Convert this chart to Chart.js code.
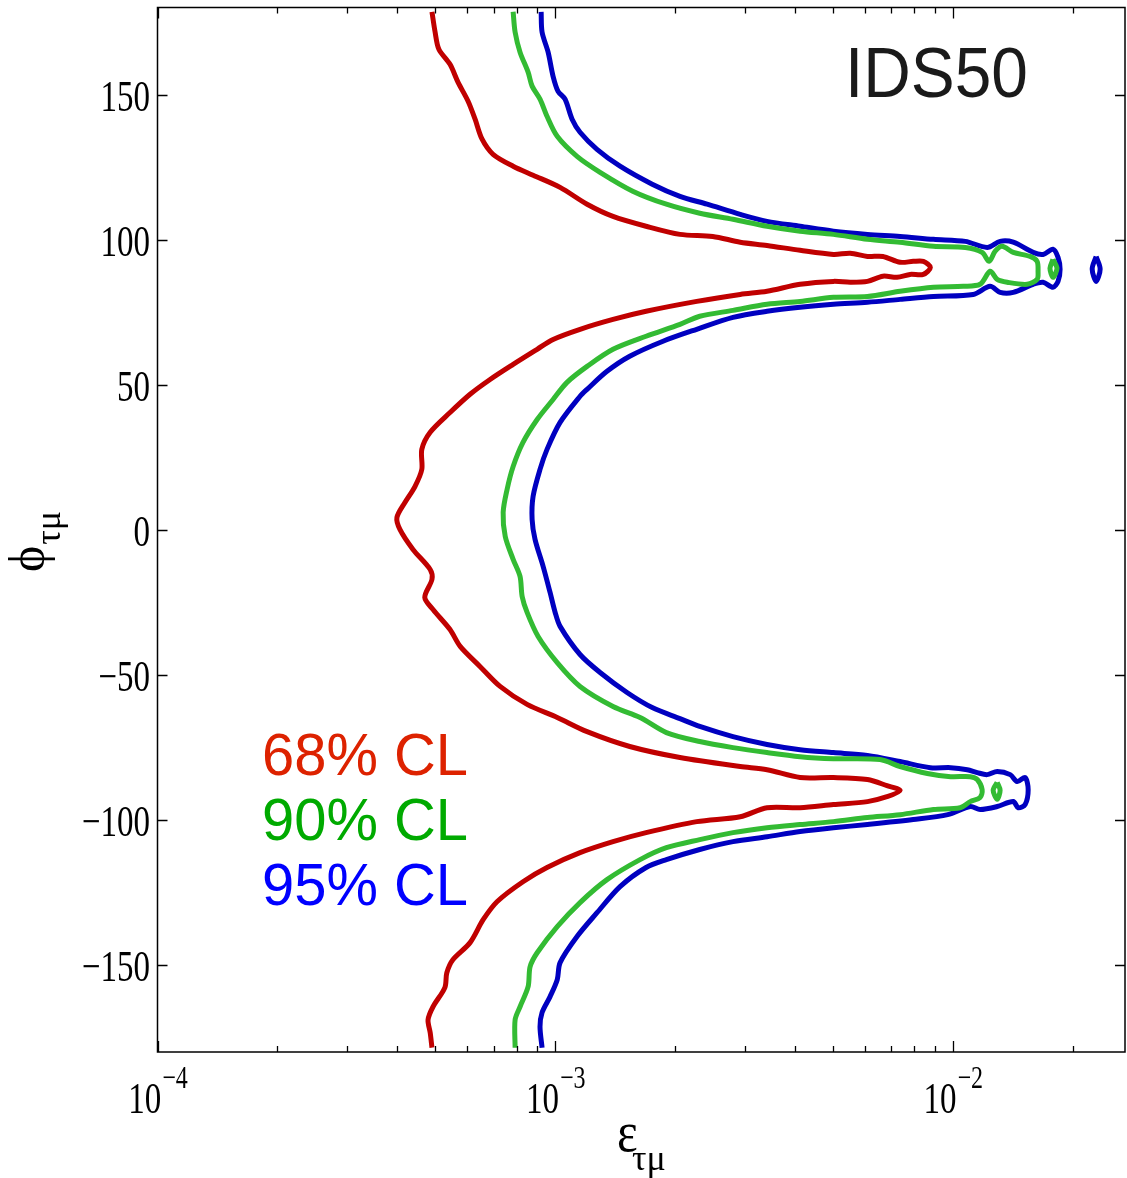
<!DOCTYPE html>
<html>
<head>
<meta charset="utf-8">
<script src="https://cdn.jsdelivr.net/npm/chart.js@4.4.1/dist/chart.umd.min.js"></script>
<style>
  html, body { margin: 0; padding: 0; background: #ffffff; }
  canvas { display: block; }
</style>
</head>
<body>
<canvas id="contourChart" width="1127" height="1178"></canvas>
<script>
// contour lines as [epsilon, phi] pairs
const cl68 = [[4.90e-4,178.5],[4.99e-4,171.5],[5.10e-4,165.6],[5.44e-4,160.4],[5.70e-4,154.2],[6.04e-4,147.7],[6.29e-4,141.5],[6.55e-4,134.6],[6.98e-4,129.4],[7.84e-4,125.3],
  [8.80e-4,122.2],[1.029e-3,118.0],[1.203e-3,112.2],[1.398e-3,108.0],[1.693e-3,104.6],[2.06e-3,101.8],[2.49e-3,101.1],[2.92e-3,99.1],[3.41e-3,98.0],[4.13e-3,96.3],
  [5.01e-3,94.9],[5.52e-3,95.3],[6.10e-3,94.2],[6.67e-3,94.2],[7.37e-3,92.2],[7.95e-3,92.5],[8.43e-3,92.5],[8.78e-3,90.4],[8.43e-3,88.0],[7.81e-3,88.0],
  [7.24e-3,87.0],[6.67e-3,87.4],[6.10e-3,85.6],[5.52e-3,85.3],[5.01e-3,85.6],[4.13e-3,84.6],[3.41e-3,82.2],[2.92e-3,81.1],[2.27e-3,78.7],[1.693e-3,75.3],
  [1.398e-3,72.5],[1.155e-3,69.1],[9.88e-4,65.6],[9.01e-4,62.2],[7.84e-4,57.0],[6.86e-4,51.8],[6.11e-4,46.7],[5.44e-4,40.4],[4.85e-4,33.6],[4.62e-4,27.7],
  [4.62e-4,20.8],[4.44e-4,14.9],[4.19e-4,9.4],[4.00e-4,4.2],[4.07e-4,0.1],[4.39e-4,-6.8],[4.85e-4,-13.7],[4.90e-4,-17.1],[4.70e-4,-23.3],[4.93e-4,-27.5],
  [5.44e-4,-34.4],[5.77e-4,-40.2],[6.47e-4,-47.1],[7.27e-4,-54.0],[8.50e-4,-60.2],[1.012e-3,-64.7],[1.203e-3,-69.6],[1.540e-3,-74.7],[2.06e-3,-78.5],[2.92e-3,-81.6],
  [3.41e-3,-82.7],[4.13e-3,-85.4],[5.01e-3,-85.4],[6.10e-3,-86.1],[6.83e-3,-88.2],[7.37e-3,-89.9],[6.83e-3,-92.0],[6.10e-3,-93.7],[5.01e-3,-94.7],[4.13e-3,-95.8],
  [3.41e-3,-95.8],[2.92e-3,-98.9],[2.27e-3,-100.6],[1.693e-3,-104.4],[1.398e-3,-107.5],[1.155e-3,-111.3],[9.54e-4,-116.4],[8.30e-4,-121.3],[7.14e-4,-128.2],[6.59e-4,-134.4],
  [6.11e-4,-142.3],[5.53e-4,-148.2],[5.34e-4,-152.7],[5.28e-4,-157.8],[4.93e-4,-164.4],[4.79e-4,-168.9],[4.85e-4,-173.3],[4.90e-4,-178.5]];

const cl90 = [[7.84e-4,178.5],[7.93e-4,171.5],[8.16e-4,164.6],[8.55e-4,157.7],[8.75e-4,152.9],[9.16e-4,148.4],[9.54e-4,142.5],[1.012e-3,135.6],[1.135e-3,128.7],[1.297e-3,123.2],
  [1.567e-3,116.7],[1.904e-3,112.2],[2.31e-3,109.1],[2.80e-3,107.0],[3.41e-3,104.6],[4.13e-3,102.9],[5.01e-3,101.8],[6.10e-3,100.1],[7.37e-3,99.1],[8.94e-3,97.7],
  [1.075e-2,97.3],[1.185e-2,95.6],[1.234e-2,92.5],[1.278e-2,96.0],[1.330e-2,97.7],[1.419e-2,95.6],[1.564e-2,94.2],[1.629e-2,92.5],[1.638e-2,89.1],[1.629e-2,86.3],
  [1.538e-2,84.6],[1.370e-2,85.3],[1.293e-2,86.3],[1.241e-2,89.1],[1.171e-2,84.6],[1.062e-2,83.9],[8.94e-3,83.6],[7.37e-3,82.2],[6.10e-3,80.4],[5.01e-3,80.1],
  [4.13e-3,78.7],[3.41e-3,77.7],[2.80e-3,75.6],[2.31e-3,73.6],[2.06e-3,70.8],[1.693e-3,66.7],[1.398e-3,62.2],[1.203e-3,56.3],[1.071e-3,50.8],[9.88e-4,44.9],
  [9.01e-4,38.0],[8.30e-4,30.1],[7.84e-4,21.8],[7.57e-4,13.9],[7.40e-4,6.0],[7.49e-4,-2.3],[7.84e-4,-10.2],[8.16e-4,-16.1],[8.26e-4,-23.0],[8.50e-4,-28.5],
  [9.06e-4,-36.8],[1.012e-3,-45.8],[1.155e-3,-54.0],[1.398e-3,-60.9],[1.635e-3,-64.7],[1.904e-3,-69.9],[2.31e-3,-73.0],[2.80e-3,-75.1],[3.41e-3,-76.8],[4.13e-3,-78.2],
  [5.01e-3,-78.9],[6.56e-3,-79.2],[7.37e-3,-81.6],[8.63e-3,-84.0],[9.88e-3,-85.1],[1.106e-2,-85.1],[1.152e-2,-86.1],[1.185e-2,-89.6],[1.171e-2,-92.3],[1.106e-2,-93.7],
  [1.043e-2,-95.8],[8.94e-3,-96.4],[7.37e-3,-98.2],[6.10e-3,-99.2],[5.01e-3,-100.6],[4.13e-3,-101.6],[3.41e-3,-102.7],[2.80e-3,-104.4],[2.31e-3,-106.8],[1.904e-3,-109.6],
  [1.635e-3,-113.7],[1.350e-3,-120.6],[1.155e-3,-128.5],[1.012e-3,-136.8],[9.01e-4,-145.8],[8.65e-4,-150.6],[8.55e-4,-157.5],[8.16e-4,-164.4],[7.93e-4,-168.9],[7.93e-4,-178.5]];

const cl90IslandUp = [[1.786e-2,93.2],[1.828e-2,90.1],[1.786e-2,87.0],[1.755e-2,90.1],[1.786e-2,93.2]];
const cl90IslandDown = [[1.293e-2,-87.1],[1.315e-2,-89.8],[1.293e-2,-92.9],[1.263e-2,-89.8],[1.293e-2,-87.1]];

const cl95 = [[9.22e-4,178.5],[9.27e-4,171.5],[9.60e-4,164.6],[9.88e-4,156.3],[1.017e-3,151.1],[1.059e-3,148.4],[1.103e-3,141.5],[1.155e-3,137.0],[1.274e-3,131.1],[1.456e-3,125.3],
  [1.754e-3,119.1],[2.06e-3,114.9],[2.41e-3,112.2],[2.92e-3,108.7],[3.41e-3,106.3],[4.13e-3,104.6],[5.01e-3,102.9],[6.10e-3,101.8],[7.37e-3,101.1],[8.94e-3,100.1],
  [1.075e-2,99.4],[1.220e-2,97.3],[1.315e-2,99.4],[1.419e-2,99.1],[1.592e-2,95.6],[1.686e-2,94.9],[1.786e-2,96.7],[1.839e-2,93.9],[1.861e-2,89.8],[1.839e-2,85.6],
  [1.786e-2,83.6],[1.686e-2,85.3],[1.592e-2,84.6],[1.419e-2,81.8],[1.315e-2,81.8],[1.241e-2,83.9],[1.125e-2,81.1],[8.94e-3,80.4],[7.37e-3,79.4],[6.10e-3,78.4],
  [5.01e-3,77.7],[4.13e-3,76.7],[3.41e-3,75.3],[2.80e-3,73.2],[2.27e-3,69.1],[1.861e-3,64.9],[1.540e-3,59.8],[1.350e-3,54.6],[1.203e-3,48.4],[1.155e-3,46.0],
  [1.029e-3,37.0],[9.54e-4,27.7],[9.16e-4,20.8],[8.80e-4,11.5],[8.75e-4,3.6],[8.90e-4,-3.3],[9.33e-4,-12.7],[9.71e-4,-21.6],[1.000e-3,-28.5],[1.029e-3,-33.3],
  [1.155e-3,-43.0],[1.297e-3,-49.2],[1.516e-3,-56.1],[1.754e-3,-61.3],[2.06e-3,-65.1],[2.31e-3,-67.8],[2.80e-3,-71.3],[3.41e-3,-74.0],[4.13e-3,-75.8],[5.01e-3,-76.8],
  [6.10e-3,-77.8],[7.37e-3,-79.9],[8.78e-3,-82.0],[9.88e-3,-82.0],[1.087e-2,-82.7],[1.152e-2,-83.7],[1.220e-2,-84.4],[1.293e-2,-83.3],[1.394e-2,-84.4],[1.452e-2,-86.8],
  [1.520e-2,-85.4],[1.547e-2,-89.6],[1.520e-2,-94.7],[1.460e-2,-95.8],[1.419e-2,-93.7],[1.293e-2,-95.4],[1.171e-2,-96.4],[1.106e-2,-95.4],[9.71e-3,-98.2],[7.95e-3,-99.9],
  [6.10e-3,-101.6],[5.01e-3,-102.7],[4.13e-3,-104.0],[3.41e-3,-105.8],[2.80e-3,-107.5],[2.31e-3,-110.2],[1.904e-3,-113.7],[1.693e-3,-116.4],[1.456e-3,-123.0],[1.274e-3,-132.0],
  [1.135e-3,-140.2],[1.029e-3,-149.2],[1.012e-3,-155.1],[9.71e-4,-160.9],[9.27e-4,-166.4],[9.16e-4,-171.3],[9.27e-4,-178.5]];

const cl95Island = [[2.293e-2,94.2],[2.347e-2,89.9],[2.293e-2,85.6],[2.241e-2,89.9],[2.293e-2,94.2]];

// axes
const xTicks = [1e-4,2e-4,3e-4,4e-4,5e-4,6e-4,7e-4,8e-4,9e-4,1e-3,2e-3,3e-3,4e-3,5e-3,6e-3,7e-3,8e-3,9e-3,1e-2,2e-2];
const xMajor = [1e-4,1e-3,1e-2];
const xExponents = ['\u22124','\u22123','\u22122'];
const yTicks = [-150,-100,-50,0,50,100,150];
const yTickLabels = ['\u2212150','\u2212100','\u221250','0','50','100','150'];

const legendLabels = ['68% CL','90% CL','95% CL'];
const legendColors = ['#dd2200','#00aa00','#0000ff'];
const lineColors = ['#c00000','#33bb33','#0000c0'];

document.addEventListener('DOMContentLoaded',() =>
{
    const toPoints = arr => arr.map(p => ({ x: p[0], y: p[1] }));

    const makeSet = (arr,color) => ({
        data: toPoints(arr),
        showLine: true,
        borderColor: color,
        backgroundColor: color,
        borderWidth: 5,
        pointRadius: 0,
        tension: 0.3,
        fill: false
    });

    // frame, inward ticks, labels and texts
    const overlay = {
        id: 'overlay',
        afterDraw(chart)
        {
            const { ctx,chartArea: a,scales: { x,y } } = chart;
            ctx.save();
            ctx.strokeStyle = '#000';
            ctx.lineWidth = 1.5;
            ctx.strokeRect(a.left,a.top,a.right - a.left,a.bottom - a.top);

            ctx.lineWidth = 1.3;
            ctx.beginPath();
            x.ticks.forEach(t =>
            {
                const px = Math.round(x.getPixelForValue(t.value)) + 0.5;
                const len = xMajor.includes(t.value) ? 11 : 6;
                ctx.moveTo(px,a.bottom); ctx.lineTo(px,a.bottom - len);
                ctx.moveTo(px,a.top); ctx.lineTo(px,a.top + len);
            });
            y.ticks.forEach(t =>
            {
                const py = Math.round(y.getPixelForValue(t.value)) + 0.5;
                ctx.moveTo(a.left,py); ctx.lineTo(a.left + 10,py);
                ctx.moveTo(a.right,py); ctx.lineTo(a.right - 10,py);
            });
            ctx.stroke();

            // y tick labels (condensed Times look)
            ctx.fillStyle = '#000';
            ctx.textBaseline = 'alphabetic';
            ctx.font = '44px "Liberation Serif"';
            ctx.textAlign = 'right';
            yTicks.forEach((v,i) =>
            {
                const py = y.getPixelForValue(v);
                ctx.save();
                ctx.translate(a.left - 7.5,py + 16);
                ctx.scale(0.75,1);
                ctx.fillText(yTickLabels[i],0,0);
                ctx.restore();
            });

            // x tick labels 10^n
            ctx.textAlign = 'left';
            xMajor.forEach((v,i) =>
            {
                const px = x.getPixelForValue(v);
                ctx.font = '44px "Liberation Serif"';
                const wb = ctx.measureText('10').width * 0.75;
                ctx.font = '32px "Liberation Serif"';
                const ws = ctx.measureText(xExponents[i]).width * 0.75;
                const x0 = px - (wb + ws) / 2;
                ctx.save();
                ctx.translate(x0,1113);
                ctx.scale(0.75,1);
                ctx.font = '44px "Liberation Serif"';
                ctx.fillText('10',0,0);
                ctx.restore();
                ctx.save();
                ctx.translate(x0 + wb + 1,1088);
                ctx.scale(0.75,1);
                ctx.font = '32px "Liberation Serif"';
                ctx.fillText(xExponents[i],0,0);
                ctx.restore();
            });

            // x axis title
            ctx.save();
            ctx.translate(617,1151);
            ctx.scale(0.85,1);
            ctx.font = '58px "Liberation Serif"';
            ctx.fillText('\u03b5',0,0);
            ctx.restore();
            ctx.font = '36px "Liberation Serif"';
            ctx.fillText('\u03c4\u03bc',632,1170);

            // y axis title, rotated
            ctx.save();
            ctx.translate(44,572);
            ctx.rotate(-Math.PI / 2);
            ctx.font = '50px "Liberation Serif"';
            ctx.fillText('\u03d5',0,0);
            const wp = ctx.measureText('\u03d5').width;
            ctx.font = '36px "Liberation Serif"';
            ctx.fillText('\u03c4\u03bc',wp + 1,16);
            ctx.restore();

            // panel name
            ctx.save();
            ctx.translate(845,97);
            ctx.scale(0.94,1);
            ctx.fillStyle = '#1a1a1a';
            ctx.font = '70px "Liberation Sans"';
            ctx.fillText('IDS50',0,0);
            ctx.restore();

            // confidence level key
            legendLabels.forEach((s,i) =>
            {
                ctx.save();
                ctx.translate(262,775 + i * 65);
                ctx.scale(0.965,1);
                ctx.fillStyle = legendColors[i];
                ctx.font = '60px "Liberation Sans"';
                ctx.fillText(s,0,0);
                ctx.restore();
            });
            ctx.restore();
        }
    };

    const initContourChart = () =>
    {
        const ctx = document.getElementById('contourChart').getContext('2d');
        return new Chart(ctx,{
            type: 'scatter',
            data: {
                datasets: [
                    makeSet(cl68,lineColors[0]),
                    makeSet(cl90,lineColors[1]),
                    makeSet(cl90IslandUp,lineColors[1]),
                    makeSet(cl90IslandDown,lineColors[1]),
                    makeSet(cl95,lineColors[2]),
                    makeSet(cl95Island,lineColors[2])
                ]
            },
            options: {
                responsive: false,
                animation: false,
                devicePixelRatio: 1,
                layout: { padding: { top: 7.5,right: 2,left: 0,bottom: 0 } },
                plugins: {
                    legend: { display: false },
                    tooltip: { enabled: false }
                },
                scales: {
                    x: {
                        type: 'logarithmic',
                        min: 1e-4,
                        max: 0.0271,
                        grid: { display: false },
                        border: { display: false },
                        ticks: { display: false,autoSkip: false },
                        afterBuildTicks: s => { s.ticks = xTicks.map(v => ({ value: v })); },
                        afterFit: s => { s.height = 126; }
                    },
                    y: {
                        type: 'linear',
                        min: -180,
                        max: 180,
                        grid: { display: false },
                        border: { display: false },
                        ticks: { display: false },
                        afterBuildTicks: s => { s.ticks = yTicks.map(v => ({ value: v })); },
                        afterFit: s => { s.width = 157.5; }
                    }
                }
            },
            plugins: [overlay]
        });
    };

    initContourChart();
});
</script>
</body>
</html>
